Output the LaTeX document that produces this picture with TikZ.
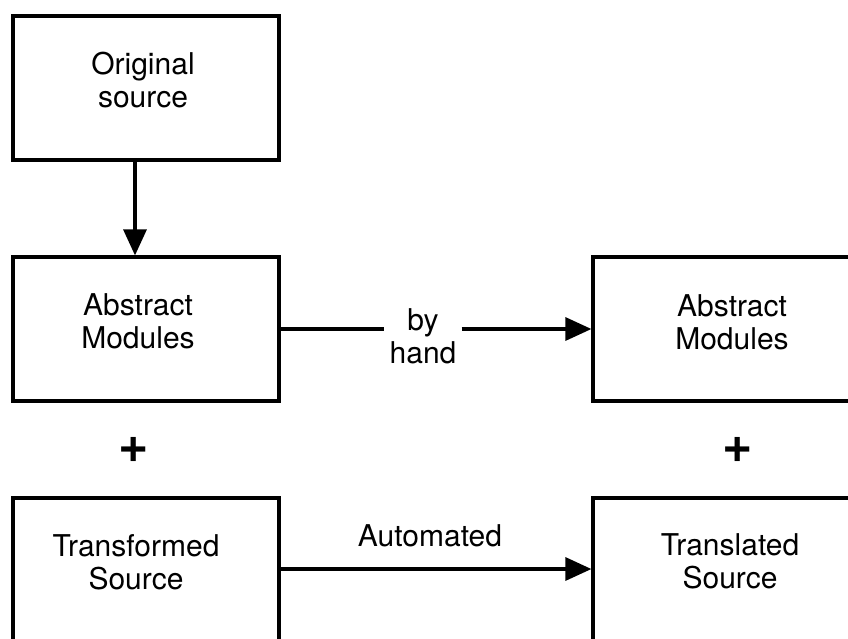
\documentclass[tikz,border=0pt]{standalone}
\usepackage{fontspec}
\setmainfont{TeX Gyre Heros}
\usetikzlibrary{arrows.meta}
\begin{document}
\begin{tikzpicture}[x=1pt,y=-1pt,
  box/.style={draw, line width=3.2pt, minimum width=266pt, minimum height=144pt, inner sep=0pt},
  lbl/.style={align=center, font=\fontsize{30}{33}\selectfont, inner sep=0pt},
  plus/.style={font=\bfseries\fontsize{52}{52}\selectfont, inner sep=0pt},
  conn/.style={line width=3.2pt},
  arr/.style={line width=3.2pt, -{Triangle[length=26pt,width=23pt]}}]
\useasboundingbox (0,0) rectangle (848,638);
\clip (0,0) rectangle (848,638);

% boxes
\node[box] (orig) at (146,88) {};
\node[box] (am1) at (146,329) {};
\node[box] (am2) at (726,329) {};
\node[box, minimum height=152pt] (ts) at (146,574) {};
\node[box, minimum height=152pt] (tr) at (726,574) {};

% box texts
\node[lbl] (origt) at (143,80) {Original\\source};
\node[lbl] (am1t) at (138,321) {Abstract\\Modules};
\node[lbl] (am2t) at (732,322) {Abstract\\Modules};
\node[lbl] (tst) at (136,562) {Transformed\\Source};
\node[lbl] (trt) at (730,561) {Translated\\Source};

% plus signs
\node[plus] (p1) at (134,450) {+};
\node[plus] (p2) at (738,450) {+};

% connectors
\coordinate (a1) at (135,0);
\draw[arr] (orig.south -| a1) -- (am1.north -| a1);

\node[lbl, inner xsep=5pt] (bh) at (423,336) {by\\hand};
\draw[conn] (am1.east) -- (bh.west |- am1.east);
\draw[arr] (bh.east |- am2.west) -- (am2.west);

\node[lbl] (aut) at (430,536) {Automated};
\coordinate (au) at (0,569);
\draw[arr] (ts.east |- au) -- (tr.west |- au);
\end{tikzpicture}
\end{document}
